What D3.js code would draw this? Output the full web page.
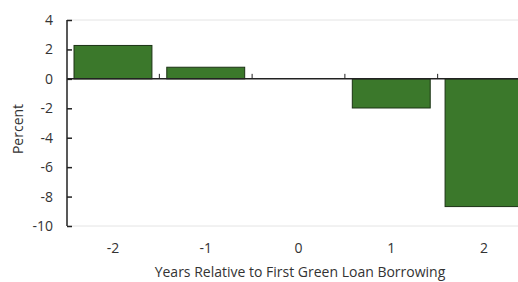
<!DOCTYPE html>
<html>
<head>
<meta charset="utf-8">
<script src="https://cdn.jsdelivr.net/npm/d3@7"></script>
<style>
  body { margin: 0; background: #fff; }
  text { font-family: "Open Sans", "Noto Sans", sans-serif; fill: #333; }
</style>
</head>
<body>
<svg id="chart" width="518" height="282"></svg>
<script>
const years = ['-2', '-1', '0', '1', '2'];
const values = [2.27, 0.79, 0, -1.98, -8.68];
const yTicks = [4, 2, 0, -2, -4, -6, -8, -10];

const svg = d3.select('#chart');
const plotLeft = 67, plotRight = 530, plotTop = 20, plotBottom = 226;

const x = d3.scaleBand().domain(years).range([plotLeft, plotRight]).paddingInner(0.16).paddingOuter(0.0755);
const y = d3.scaleLinear().domain([-10, 4]).range([plotBottom, plotTop]);

// faint frame lines at top and bottom
svg.selectAll('line.grid')
    .data([4, -10])
    .join('line')
    .attr('x1', plotLeft).attr('x2', 518)
    .attr('y1', d => y(d)).attr('y2', d => y(d))
    .attr('stroke', '#e4e4e4');

// bars
svg.selectAll('rect.bar')
    .data(values)
    .join('rect')
    .attr('class', 'bar')
    .attr('x', (d, i) => x(years[i]))
    .attr('width', x.bandwidth())
    .attr('y', d => y(Math.max(0, d)))
    .attr('height', d => Math.abs(y(d) - y(0)))
    .attr('fill', '#3b782b')
    .attr('stroke', '#1c3315')
    .attr('stroke-width', 1);

// zero line with upward ticks between categories
svg.append('line')
    .attr('x1', plotLeft).attr('x2', 518)
    .attr('y1', y(0)).attr('y2', y(0))
    .attr('stroke', '#222').attr('stroke-width', 1.5);

const gap = x.step() - x.bandwidth();
svg.selectAll('line.xtick')
    .data(years.slice(1))
    .join('line')
    .attr('x1', d => x(d) - gap / 2).attr('x2', d => x(d) - gap / 2)
    .attr('y1', y(0)).attr('y2', y(0) - 5)
    .attr('stroke', '#222');

// y axis
const yAxis = d3.axisLeft(y).tickValues(yTicks).tickFormat(d => String(d)).tickSize(-5).tickPadding(14);
const ya = svg.append('g').attr('transform', `translate(${plotLeft},0)`).call(yAxis);
ya.select('.domain').attr('stroke', '#222').attr('stroke-width', 1.5).attr('d', `M0,${plotTop}V${plotBottom}`);
ya.selectAll('.tick line').attr('stroke', '#222').attr('stroke-width', 1.5).attr('x1', 0).attr('x2', 5);
ya.selectAll('.tick text').attr('font-size', 14).style('fill', '#333');

// x category labels
svg.selectAll('text.xlab')
    .data(years)
    .join('text')
    .attr('x', d => x(d) + x.bandwidth() / 2)
    .attr('y', 253)
    .attr('text-anchor', 'middle')
    .attr('font-size', 14)
    .text(d => d);

svg.append('text')
    .attr('x', 300).attr('y', 277)
    .attr('text-anchor', 'middle')
    .attr('font-size', 14)
    .text('Years Relative to First Green Loan Borrowing');

svg.append('text')
    .attr('transform', `translate(23,${(plotTop + plotBottom) / 2 + 6}) rotate(-90)`)
    .attr('text-anchor', 'middle')
    .attr('font-size', 14)
    .text('Percent');
</script>
</body>
</html>
